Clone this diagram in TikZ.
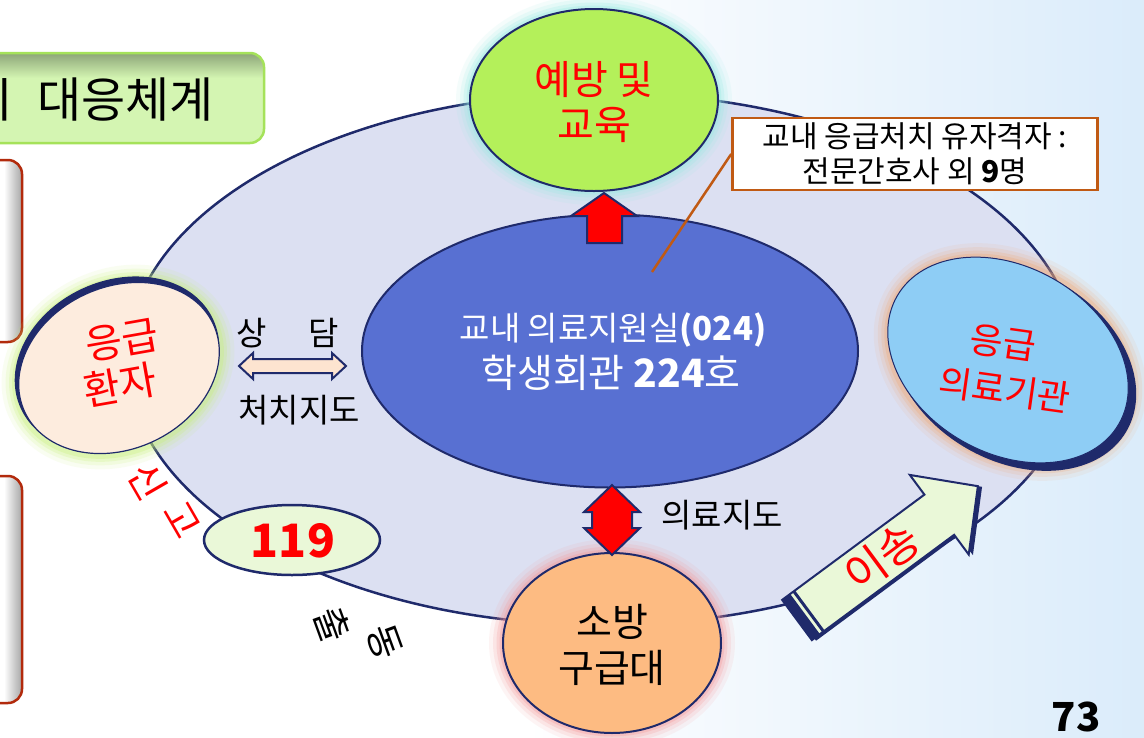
\documentclass[tikz,border=0pt]{standalone}
\usepackage{fontspec}
\setmainfont{Noto Sans CJK KR}
\usetikzlibrary{shapes.geometric}
\definecolor{navy}{RGB}{31,42,107}
\definecolor{lav}{RGB}{220,224,242}
\definecolor{bgblue}{RGB}{185,218,246}
\definecolor{boxred}{RGB}{178,42,12}
\definecolor{titlefill}{RGB}{212,245,178}
\definecolor{titleedge}{RGB}{165,226,90}
\definecolor{titleshadow}{RGB}{140,165,120}
\definecolor{limefill}{RGB}{180,240,90}
\definecolor{cyanglow}{RGB}{150,235,225}
\definecolor{peach}{RGB}{253,236,222}
\definecolor{greenglow}{RGB}{200,240,120}
\definecolor{midblue}{RGB}{88,112,210}
\definecolor{orangefill}{RGB}{253,187,130}
\definecolor{pinkglow}{RGB}{245,150,150}
\definecolor{skyfill}{RGB}{142,205,245}
\definecolor{orangeglow}{RGB}{240,170,120}
\definecolor{creamgreen}{RGB}{234,248,216}
\definecolor{arrpeach}{RGB}{253,228,208}
\definecolor{calloutedge}{RGB}{192,90,20}
\definecolor{txtred}{RGB}{255,0,0}
\pgfdeclarehorizontalshading{bgsh}{100bp}{color(0bp)=(white); color(48bp)=(white); color(100bp)=(bgblue)}
\newcommand\glowell[5]{%
  \foreach \w/\o in {28/0.10,20/0.15,13/0.22,7/0.3}{%
    \draw[#5,line width=\w pt,opacity=\o,rotate around={#4:#1}] #1 ellipse [x radius=#2, y radius=#3];}}
\tikzset{
  lbl/.style={font=\fontsize{33}{36}\selectfont},
  blockarrow/.style={draw=navy, line width=2pt, line join=miter},
  bubble/.style={ellipse, draw=navy, line width=2pt},
  redtxt/.style={text=txtred},
}
\begin{document}
\begin{tikzpicture}[x=1pt,y=-1pt]
\useasboundingbox (0,0) rectangle (1144,737);
\clip (0,0) rectangle (1144,737);
% background
\shade[shading=bgsh] (0,0) rectangle (1144,737);

% title box
\begin{scope}
  \clip[rounded corners=14pt] (-30,53) rectangle (264,143);
  \fill[titlefill] (-30,53) rectangle (264,143);
  \shade[top color=titleshadow, bottom color=titlefill] (-30,53) rectangle (264,78);
\end{scope}
\draw[draw=titleedge, line width=2.5pt, rounded corners=14pt] (-30,53) rectangle (264,143);
\node[anchor=west, font=\fontsize{48}{52}\selectfont, inner sep=0pt] (title) at (-18,100) {ㅣ 대응체계};

% left boxes
\begin{scope}
  \clip[rounded corners=14pt] (-30,160) rectangle (22,342);
  \fill[white] (-30,160) rectangle (22,342);
  \shade[left color=white, right color=gray!70] (4,160) rectangle (22,342);
\end{scope}
\draw[draw=boxred, line width=2.5pt, rounded corners=14pt] (-30,160) rectangle (22,342);
\begin{scope}
  \clip[rounded corners=14pt] (-30,476) rectangle (22,703);
  \fill[white] (-30,476) rectangle (22,703);
  \shade[left color=white, right color=gray!70] (4,476) rectangle (22,703);
\end{scope}
\draw[draw=boxred, line width=2.5pt, rounded corners=14pt] (-30,476) rectangle (22,703);

% big ring
\node[ellipse, draw=navy, line width=2.5pt, fill=lav, minimum width=950, minimum height=532] (ring) at (602,359) {};

% top: prevention
\glowell{(594,100)}{124}{91}{0}{cyanglow}
\node[bubble, fill=limefill, minimum width=248, minimum height=182] (prev) at (594,100) {};
\node[redtxt, font=\fontsize{40}{44}\selectfont] (prev1) at (594,80) {예방 및};
\node[redtxt, font=\fontsize{40}{44}\selectfont] (prev2) at (594,125) {교육};

% left: patient
\glowell{(118,367)}{106}{84}{25}{greenglow}
\node[ellipse, fill=navy, minimum width=212, minimum height=166, rotate=25] (patrim) at (117,364) {};
\node[ellipse, draw=navy, line width=1.2pt, fill=peach, minimum width=208, minimum height=162, rotate=25] (patient) at (119,368) {};
\node[redtxt, font=\fontsize{40}{44}\selectfont, rotate=10] (pat1) at (122,340) {응급};
\node[redtxt, font=\fontsize{40}{44}\selectfont, rotate=10] (pat2) at (120,385) {환자};

% right: hospital
\glowell{(1010,362)}{130}{95}{-30}{orangeglow}
\node[ellipse, fill=navy, minimum width=260, minimum height=190, rotate=-30] (hosprim) at (1014,366) {};
\node[ellipse, draw=navy, line width=1pt, fill=skyfill, minimum width=256, minimum height=186, rotate=-30] (hosp) at (1008,360) {};
\node[redtxt, font=\fontsize{36}{40}\selectfont, rotate=-8] (hosp1) at (1003,343) {응급};
\node[redtxt, font=\fontsize{36}{40}\selectfont, rotate=-8] (hosp2) at (1005,390) {의료기관};

% bottom: fire rescue
\glowell{(612,643)}{109}{90}{0}{pinkglow}
\node[bubble, fill=orangefill, minimum width=218, minimum height=180] (fire) at (612,643) {};
\node[font=\fontsize{39}{44}\selectfont] (fire1) at (612,622) {소방};
\node[font=\fontsize{39}{44}\selectfont] (fire2) at (612,668) {구급대};

% 119
\node[bubble, line width=2.5pt, fill=creamgreen, minimum width=176, minimum height=70] (n119) at (292,540) {};
\node[redtxt, font=\bfseries\fontsize{46}{50}\selectfont] (t119) at (293,541) {119};

% centre
\node[ellipse, draw=navy, line width=2pt, fill=midblue, minimum width=496, minimum height=273] (center) at (610,351) {};
\node[text=white, font=\fontsize{33}{36}\selectfont] (ct1) at (613,330) {교내 의료지원실\textbf{(024)}};
\node[text=white, font=\fontsize{39}{42}\selectfont] (ct2) at (611,373) {학생회관 \textbf{224}호};

% arrows
\draw[blockarrow, fill=red] (587,243) -- (587,216) -- (571,216) -- (604,193) -- (637,216) -- (622,216) -- (622,243) -- cycle;
\draw[blockarrow, fill=red] (612,485) -- (640,512) -- (632,512) -- (632,528) -- (640,528) -- (612,555) -- (584,528) -- (592,528) -- (592,512) -- (584,512) -- cycle;
\draw[blockarrow, fill=arrpeach] (239,366) -- (253,353) -- (253,359) -- (332,359) -- (332,353) -- (346,366) -- (332,379) -- (332,373) -- (253,373) -- (253,379) -- cycle;

% labels
\node[lbl] (sang) at (252,333) {상};
\node[lbl] (dam) at (324,333) {담};
\node[lbl] (cheochi) at (299,410) {처치지도};
\node[lbl] (uiryo) at (722,515) {의료지도};
\node[redtxt, font=\fontsize{38}{40}\selectfont, rotate=-60] (sin) at (148,481) {신};
\node[redtxt, font=\fontsize{38}{40}\selectfont, rotate=-60] (go) at (182,520) {고};
\node[font=\fontsize{37}{40}\selectfont, rotate=-70] (chul) at (333,625) {출};
\node[font=\fontsize{37}{40}\selectfont, rotate=-70] (dong) at (385,642) {동};

% callout
\coordinate (ptr) at (652,272);
\node[draw=calloutedge, line width=2.5pt, fill=white, minimum width=365, minimum height=72, align=center, font=\fontsize{30}{35}\selectfont] (callout) at (915,154) {교내 응급처치 유자격자 :\\전문간호사 외 \textbf{9}명};
\draw[calloutedge, line width=2.5pt] (callout.west) -- (ptr);

% transfer arrow
\begin{scope}[shift={(797,620)}, rotate=36.5]
  \fill[navy] (3,-22) -- (180,-22) -- (180,-46.5) -- (228,3) -- (180,52.5) -- (180,28) -- (3,28) -- cycle;
  \draw[blockarrow, fill=creamgreen] (0,-25) -- (177,-25) -- (177,-49.5) -- (225,0) -- (177,49.5) -- (177,25) -- (0,25) -- cycle;
  \fill[navy] (0,-25) rectangle (10,25);
  \fill[navy] (13,-25) rectangle (16,25);
\end{scope}
\node[redtxt, font=\fontsize{44}{48}\selectfont, rotate=36.5] (isong) at (882,557) {이송};

% page number
\node[font=\bfseries\fontsize{40}{44}\selectfont] (pg) at (1076,717) {73};
\end{tikzpicture}
\end{document}
